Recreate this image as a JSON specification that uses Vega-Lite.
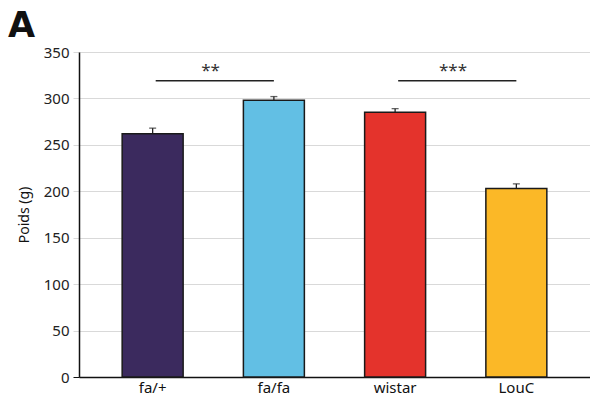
{
  "$schema": "https://vega.github.io/schema/vega-lite/v6.json",
  "autosize": {"type": "none"},
  "width": 511,
  "height": 325,
  "padding": {"left": 79, "top": 52, "right": 0, "bottom": 30},
  "background": "white",
  "title": {"text": "A", "anchor": "start", "frame": "group", "dx": -71, "offset": 1, "fontSize": 35, "fontWeight": "bold", "font": "DejaVu Sans", "color": "#111"},
  "config": {"view": {"stroke": null}, "font": "Noto Sans"},
  "datasets": {
    "bars": [
      {"groupe": "fa/+", "poids": 262, "err": 6},
      {"groupe": "fa/fa", "poids": 298, "err": 4},
      {"groupe": "wistar", "poids": 285, "err": 4},
      {"groupe": "LouC", "poids": 203, "err": 5}
    ],
    "sig": [
      {"g1": "fa/+", "g2": "fa/fa", "y": 319, "ys": 330, "label": "**"},
      {"g1": "wistar", "g2": "LouC", "y": 319, "ys": 330, "label": "***"}
    ]
  },
  "encoding": {},
  "layer": [
    {
      "data": {"name": "bars"},
      "transform": [{"calculate": "datum.poids + datum.err", "as": "hi"}],
      "mark": {"type": "rule", "color": "#222", "strokeWidth": 1.3},
      "encoding": {
        "x": {"field": "groupe", "type": "nominal"},
        "y": {"field": "poids", "type": "quantitative"},
        "y2": {"field": "hi"}
      }
    },
    {
      "data": {"name": "bars"},
      "transform": [{"calculate": "datum.poids + datum.err", "as": "hi"}],
      "mark": {"type": "tick", "color": "#222", "size": 7, "thickness": 1.3},
      "encoding": {
        "x": {"field": "groupe", "type": "nominal"},
        "y": {"field": "hi", "type": "quantitative"}
      }
    },
    {
      "data": {"name": "bars"},
      "mark": {"type": "bar", "stroke": "#1a1a1a", "strokeWidth": 1.5},
      "encoding": {
        "x": {
          "field": "groupe", "type": "nominal",
          "scale": {"domain": ["fa/+", "fa/fa", "wistar", "LouC"], "paddingInner": 0.497, "paddingOuter": 0.356},
          "axis": {"title": null, "labelAngle": 0, "labelAlign": "center", "bandPosition": 0.5, "labelFontSize": 15, "labelColor": "#111", "labelPadding": 10, "ticks": false, "domainColor": "#111", "domainWidth": 1.5, "grid": false}
        },
        "y": {
          "field": "poids", "type": "quantitative",
          "scale": {"domain": [0, 350]},
          "axis": {"title": "Poids (g)", "titleFontSize": 14, "titleFontWeight": "normal", "titleColor": "#111", "titlePadding": 12, "values": [0, 50, 100, 150, 200, 250, 300, 350], "labelFontSize": 15, "labelColor": "#222", "labelPadding": 4, "tickSize": 6, "tickColor": {"condition": {"test": "datum.value === 0", "value": "#111"}, "value": "#d9d9d9"}, "domainColor": "#111", "domainWidth": 1.5, "grid": true, "gridColor": "#d9d9d9", "gridWidth": 1}
        },
        "color": {
          "field": "groupe", "type": "nominal", "legend": null,
          "scale": {"domain": ["fa/+", "fa/fa", "wistar", "LouC"], "range": ["#3b2a5e", "#62bfe4", "#e4332c", "#fbb827"]}
        }
      }
    },
    {
      "data": {"name": "sig"},
      "mark": {"type": "rule", "color": "#222", "strokeWidth": 1.5},
      "encoding": {
        "x": {"field": "g1", "type": "nominal", "bandPosition": 0.55},
        "x2": {"field": "g2"},
        "y": {"field": "y", "type": "quantitative"}
      }
    },
    {
      "data": {"name": "sig"},
      "mark": {"type": "text", "fontSize": 17, "color": "#333"},
      "encoding": {
        "x": {"field": "g1", "type": "nominal", "bandPosition": 1.45},
        "y": {"field": "ys", "type": "quantitative"},
        "text": {"field": "label"}
      }
    }
  ]
}
